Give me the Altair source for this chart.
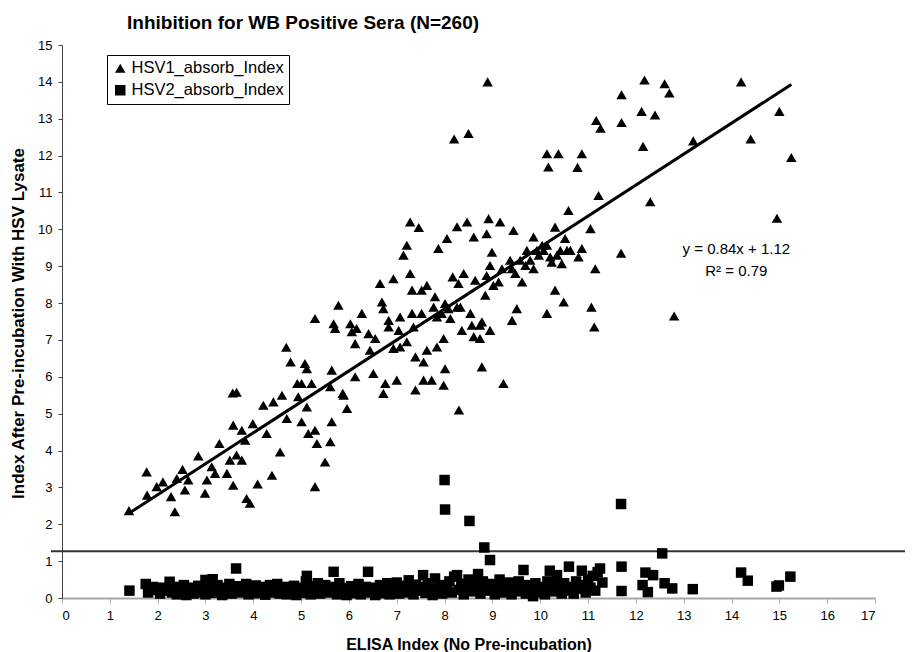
import altair as alt
import pandas as pd

# ---------------- data ----------------
series_names = ["HSV1_absorb_Index", "HSV2_absorb_Index"]

tri_x = [1.40, 1.77, 1.78, 1.98, 2.11, 2.28, 2.36, 2.40, 2.52, 2.57, 2.64, 2.85, 2.99, 3.03, 3.13, 3.20,
         3.29, 3.45, 3.58, 3.51, 3.58, 3.65, 3.76, 3.57, 3.65, 3.76, 3.86, 3.93, 3.83, 3.99, 4.09, 4.28,
         4.21, 4.39, 4.42, 4.56, 4.60, 4.70, 4.92, 4.94, 5.01, 5.12, 5.15, 5.22, 5.29, 5.33, 5.29, 5.50,
         5.61, 5.64, 5.87, 5.96, 4.69, 4.78,
         5.08, 5.12, 5.01, 5.29, 5.64, 5.68, 5.71, 5.78, 5.61, 5.89, 6.03, 6.06, 6.13, 6.16, 6.27, 6.13,
         6.41, 6.44, 6.51, 6.55, 6.65, 6.69, 6.72, 6.76, 6.72, 6.83, 6.83, 6.93, 6.93, 7.00, 7.07, 7.04,
         7.07, 7.21, 7.14, 7.21, 7.28, 7.46, 7.28, 7.32, 7.32, 7.35, 7.39, 7.39, 7.56, 7.52, 7.63, 7.52,
         7.56, 7.63, 7.73, 7.80, 7.77, 7.84, 7.84, 7.87, 7.98, 7.98, 7.94, 8.01, 8.05, 8.01, 8.08, 8.12,
         8.17, 8.26, 8.26, 8.29, 8.40, 8.36, 8.33, 8.47, 8.54, 8.57, 8.61, 8.61, 8.64, 8.74, 8.78, 8.78,
         8.74, 8.85, 8.88, 8.88, 8.92, 8.95, 8.99, 8.95, 9.02, 9.13, 9.16, 9.20, 9.23, 9.37, 9.41, 9.41,
         9.44, 9.48, 9.51, 9.58, 9.62, 9.69, 9.72, 9.79, 9.86, 9.86, 9.93, 9.97, 10.04, 10.07, 10.14, 10.14,
         10.14, 10.38, 10.87, 10.17, 10.78, 10.21, 10.24, 10.31, 10.31, 10.35, 10.42, 10.45, 10.49, 10.52,
         10.56, 10.59, 10.63, 10.80, 10.87, 11.05, 11.07, 11.13, 11.15, 11.22,
         11.17, 11.26, 11.69, 11.70, 11.70, 12.12, 12.18, 12.15, 12.30, 12.40, 12.60, 12.70, 12.80, 13.20,
         14.20, 14.40, 14.95, 15.00, 15.25, 8.20, 8.50, 8.90, 8.30]
tri_y = [2.37, 3.42, 2.79, 3.02, 3.15, 2.75, 2.34, 3.24, 3.49, 2.93, 3.20, 3.85, 2.84, 3.20, 3.56, 3.38,
         4.19, 3.38, 3.06, 3.74, 4.69, 3.88, 3.74, 5.56, 5.58, 4.55, 2.70, 2.57, 4.28, 4.73, 3.09, 4.46,
         5.23, 3.33, 5.32, 3.96, 5.50, 4.87, 5.82, 5.46, 4.78, 5.18, 4.46, 5.82, 4.55, 4.19, 3.02, 3.69,
         4.24, 4.78, 5.55, 5.14, 6.80, 6.40,
         6.36, 6.22, 5.82, 7.58, 6.18, 7.44, 7.31, 7.94, 5.73, 5.50, 7.44, 7.22, 6.90, 7.31, 7.72, 6.00,
         7.17, 6.72, 6.09, 7.04, 8.53, 8.03, 7.85, 5.82, 5.55, 7.53, 7.35, 8.66, 6.77, 5.91, 7.62, 7.26,
         6.81, 6.95, 9.30, 9.57, 10.20, 10.05, 8.80, 8.35, 7.72, 7.35, 6.54, 5.64, 6.40, 8.35, 8.48, 7.72,
         5.91, 6.72, 5.91, 8.17, 7.89, 6.81, 7.62, 9.48, 5.77, 7.04, 7.72, 7.99, 9.75, 6.22, 7.85, 7.58,
         8.71, 10.07, 7.89, 8.53, 8.80, 7.26, 7.89, 10.20, 7.72, 7.40, 9.79, 7.09, 8.62, 7.40, 7.49, 6.27,
         7.04, 8.21, 8.75, 9.88, 10.29, 7.26, 9.38, 9.02, 8.48, 8.57, 10.20, 8.93, 5.82, 9.16, 8.93, 7.53,
         9.97, 8.80, 7.85, 9.16, 8.57, 9.02, 9.43, 9.16, 9.79, 8.93, 9.43, 9.30, 9.57, 9.43, 9.57, 7.72,
         12.05, 12.05, 12.05, 11.69, 11.68, 9.25, 9.11, 10.06, 8.35, 9.30, 9.43, 9.07, 8.03, 9.75,
         9.43, 10.51, 9.43, 9.25, 9.48, 10.02, 7.89, 7.35, 8.93, 10.92,
         12.95, 12.74, 9.35, 13.65, 12.90, 13.20, 14.05, 12.25, 10.75, 13.10, 13.95, 13.70, 7.65, 12.40,
         14.00, 12.45, 10.30, 13.20, 11.95, 12.45, 12.60, 14.00, 5.10]

sq_x = [1.41, 1.75, 1.80, 1.85, 1.90, 2.00, 2.05, 2.10, 2.20, 2.25, 2.30, 2.35, 2.40, 2.45, 2.50,
        2.55, 2.60, 2.65, 2.70, 2.75, 2.80, 2.85, 2.90, 2.95, 3.00, 3.00, 3.05, 3.10, 3.15, 3.20, 3.25,
        3.30, 3.35, 3.40, 3.45, 3.50, 3.55, 3.60, 3.64, 3.70, 3.75, 3.80, 3.85, 3.90, 3.95, 4.00, 4.05,
        4.10, 4.15, 4.20, 4.25, 4.30, 4.35, 4.40, 4.45, 4.50, 4.55, 4.60, 4.65, 4.70, 4.75, 4.80, 4.85,
        4.90, 4.95, 5.00, 5.05, 5.10, 5.12, 5.15, 5.20, 5.25, 5.30, 5.35, 5.40, 5.45, 5.50, 5.55, 5.60,
        5.68, 5.70, 5.75, 5.80, 5.85, 5.90, 5.95, 6.00, 6.05, 6.10, 6.15, 6.20, 6.25, 6.30, 6.35, 6.40,
        6.45, 6.50, 6.55, 6.60, 6.65, 6.70, 6.75, 6.80, 6.85, 6.90, 6.95, 7.00, 7.05, 7.10, 7.15, 7.20,
        7.25, 7.30, 7.35, 7.40, 7.45, 7.50, 7.55, 7.60, 7.65, 7.70, 7.75, 7.80, 7.85, 7.90, 7.95, 8.00,
        8.01, 8.05, 8.10, 8.15, 8.20, 8.26, 8.30, 8.35, 8.40, 8.45, 8.52, 8.50, 8.55, 8.60, 8.65, 8.70,
        8.75, 8.80, 8.83, 8.85, 8.90, 8.95, 9.00, 9.05, 9.10, 9.15, 9.20, 9.25, 9.30, 9.35, 9.40, 9.45,
        9.50, 9.55, 9.60, 9.65, 9.70, 9.75, 9.80, 9.85, 9.90, 9.95, 10.00, 10.05, 10.10, 10.15, 10.20,
        10.25, 10.30, 10.35, 10.40, 10.45, 10.50, 10.55, 10.60, 10.65, 10.70, 10.75, 10.80, 10.87, 10.90,
        10.95, 11.00, 11.05, 11.10, 11.15, 11.20, 11.25, 11.30,
        11.69, 11.70, 11.70, 12.20, 12.36, 12.14, 12.25, 12.55, 12.60, 12.76, 13.19, 14.20, 14.34,
        14.94, 14.99, 15.23]
sq_y = [0.20, 0.38, 0.15, 0.25, 0.30, 0.22, 0.12, 0.28, 0.20, 0.44, 0.15, 0.30, 0.10, 0.25, 0.18,
        0.35, 0.08, 0.20, 0.28, 0.12, 0.22, 0.33, 0.15, 0.26, 0.49, 0.10, 0.30, 0.20, 0.51, 0.14, 0.35,
        0.22, 0.08, 0.28, 0.18, 0.38, 0.12, 0.25, 0.80, 0.32, 0.15, 0.22, 0.38, 0.10, 0.28, 0.18, 0.34,
        0.13, 0.24, 0.30, 0.09, 0.20, 0.35, 0.15, 0.26, 0.38, 0.12, 0.22, 0.30, 0.10, 0.25, 0.17, 0.33,
        0.08, 0.20, 0.28, 0.14, 0.45, 0.60, 0.22, 0.10, 0.32, 0.18, 0.40, 0.12, 0.26, 0.35, 0.15, 0.22,
        0.71, 0.30, 0.10, 0.40, 0.18, 0.27, 0.08, 0.20, 0.32, 0.13, 0.25, 0.38, 0.10, 0.22, 0.30, 0.71,
        0.15, 0.28, 0.08, 0.20, 0.35, 0.13, 0.25, 0.40, 0.10, 0.30, 0.18, 0.42, 0.12, 0.25, 0.33, 0.15,
        0.48, 0.22, 0.10, 0.36, 0.20, 0.30, 0.62, 0.14, 0.40, 0.25, 0.08, 0.53, 0.18, 0.35, 0.12, 3.20,
        2.40, 0.28, 0.45, 0.15, 0.58, 0.62, 0.22, 0.38, 0.10, 0.30, 2.09, 0.50, 0.18, 0.40, 0.25, 0.65,
        0.12, 0.45, 1.37, 0.30, 0.20, 1.03, 0.38, 0.10, 0.28, 0.50, 0.15, 0.33, 0.22, 0.42, 0.10, 0.30,
        0.18, 0.45, 0.25, 0.76, 0.12, 0.35, 0.20, 0.05, 0.40, 0.15, 0.30, 0.22, 0.10, 0.45, 0.74,
        0.18, 0.35, 0.62, 0.25, 0.12, 0.40, 0.20, 0.85, 0.30, 0.12, 0.45, 0.25, 0.74, 0.35,
        0.15, 0.50, 0.28, 0.60, 0.20, 0.70, 0.80, 0.42,
        2.55, 0.85, 0.19, 0.69, 0.62, 0.35, 0.16, 1.21, 0.40, 0.26, 0.24, 0.69, 0.47,
        0.31, 0.34, 0.58]

x_ticks = list(range(0, 18))
y_ticks = list(range(0, 16))

fit_slope = 0.84
fit_intercept = 1.12
fit_x = [1.40, 15.25]
cutoff_y = [1.27]

eq_text = ["y = 0.84x + 1.12", "R\u00b2 = 0.79"]
eq_x = [14.1, 14.1]
eq_y = [9.46, 8.87]

# ---------------- tables ----------------
pts = pd.concat([
    pd.DataFrame({"x": tri_x, "y": tri_y, "series": series_names[0]}),
    pd.DataFrame({"x": sq_x, "y": sq_y, "series": series_names[1]}),
], ignore_index=True)
fit = pd.DataFrame({"x": fit_x, "y": [fit_slope * v + fit_intercept for v in fit_x]})
cut = pd.DataFrame({"y": cutoff_y})
eq = pd.DataFrame({"x": eq_x, "y": eq_y, "t": eq_text})

W, H = 813, 553
FONT = "Liberation Sans"
xs = alt.Scale(domain=[0, 17], nice=False, zero=False)
ys = alt.Scale(domain=[0, 15], nice=False, zero=False)

x_axis = alt.Axis(values=x_ticks, tickCount=18, format="d", grid=False,
                  title="ELISA Index (No Pre-incubation)", labelOverlap=False,
                  domainColor="#a8a8a8", domainWidth=2, tickColor="#a8a8a8", tickWidth=1, tickSize=5,
                  labelFontSize=13, labelColor="black", labelPadding=6, labelFont=FONT,
                  titleFontSize=16, titleFont=FONT, titleFontWeight="bold", titleColor="black",
                  titleY=46, titleBaseline="middle")
y_axis = alt.Axis(values=y_ticks, tickCount=16, format="d", grid=False, labelOverlap=False,
                  title="Index After Pre-incubation With HSV Lysate",
                  domainColor="#404040", tickColor="#404040", tickSize=4,
                  labelFontSize=13, labelColor="black", labelPadding=6, labelFont=FONT,
                  titleFontSize=17, titleFont=FONT, titleFontWeight="bold", titleColor="black",
                  titleX=-44, titleY=278, titleAngle=270, titleAlign="center", titleBaseline="middle")

X = alt.X("x:Q", scale=xs, axis=x_axis)
Y = alt.Y("y:Q", scale=ys, axis=y_axis)

points = alt.Chart(pts).mark_point(filled=True, opacity=1, size=110, color="black", strokeWidth=0).encode(
    x=X, y=Y,
    shape=alt.Shape("series:N", scale=alt.Scale(domain=series_names, range=["triangle-up", "square"]),
                    legend=alt.Legend(title=None, orient="none", legendX=45, legendY=10,
                                      strokeColor="black", fillColor="white", padding=5,
                                      labelFontSize=16.5, labelFont=FONT, labelColor="black",
                                      symbolSize=110, symbolFillColor="black", symbolStrokeWidth=0,
                                      rowPadding=5, labelOffset=3)),
)

fit_line = alt.Chart(fit).mark_line(color="black", strokeWidth=3).encode(x=X, y=Y)

cut_rule = alt.Chart(cut).mark_rule(color="#333333", strokeWidth=2, clip=False).encode(
    y=Y, x=alt.value(-11), x2=alt.value(W + 30))

eq_marks = alt.Chart(eq).mark_text(fontSize=15, font=FONT, color="black", align="center",
                                   baseline="middle").encode(x=X, y=Y, text="t:N")

chart = alt.layer(cut_rule, points, fit_line, eq_marks).properties(
    width=W, height=H,
    autosize="none",
    padding={"left": 54, "top": 37, "right": 30, "bottom": 54},
    title=alt.TitleParams("Inhibition for WB Positive Sera (N=260)", anchor="start", frame="group",
                          dx=65, dy=26, fontSize=19, font=FONT, fontWeight="bold", color="black",
                          baseline="alphabetic", offset=17),
).configure_view(stroke=None)

chart.save("out.html", embed_options={"renderer": "svg", "actions": False})
